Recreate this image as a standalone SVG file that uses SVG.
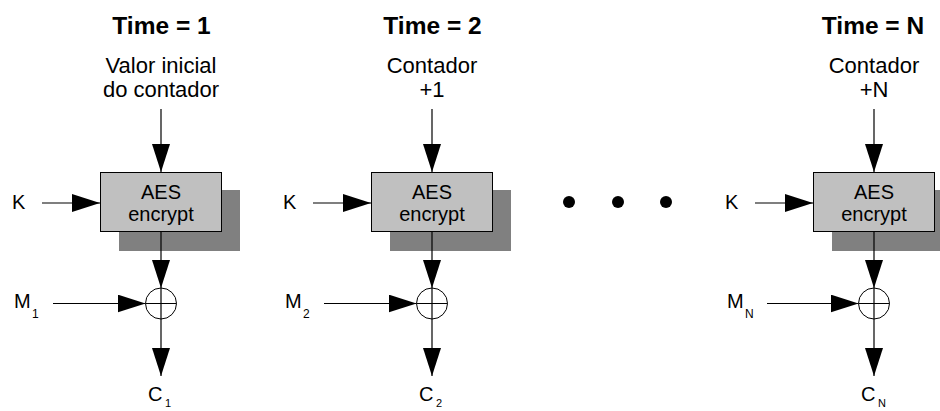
<svg xmlns="http://www.w3.org/2000/svg" width="940" height="411" viewBox="0 0 940 411">
<style>
text{font-family:"Liberation Sans",Arial,sans-serif;fill:#000}
.title{font-size:24.5px;font-weight:bold;text-anchor:middle}
.ctr{font-size:22px;text-anchor:middle}
.lbl{font-size:20px}
.box{font-size:20px;text-anchor:middle}
.sub{font-size:12px}
.csub{font-size:11px}
.shadow{fill:#808080}
.aes{fill:#c0c0c0;stroke:#000;stroke-width:1}
.ln{stroke:#000;stroke-width:1.2;fill:none}
.arr{stroke:#000;stroke-width:1.2;fill:none;marker-end:url(#ah)}
.xor{fill:#fff;stroke:#000;stroke-width:1}
</style>
<defs>
<marker id="ah" markerUnits="userSpaceOnUse" markerWidth="28" markerHeight="18" refX="28" refY="9" orient="auto">
<path d="M0,0 L28,9 L0,18 z" fill="#000"/>
</marker>
</defs>

<g id="block1">
<text class="title" x="161.5" y="34">Time = 1</text>
<text class="ctr" x="161" y="73">Valor inicial</text>
<text class="ctr" x="161" y="97">do contador</text>
<rect class="shadow" x="119" y="190" width="121" height="61"/>
<rect class="aes" x="100.5" y="172.5" width="121" height="59"/>
<text class="box" x="161" y="199">AES</text>
<text class="box" x="161" y="221">encrypt</text>
<text class="lbl" x="12" y="209">K</text>
<text class="lbl" x="14" y="308">M</text><text class="sub" x="32" y="318">1</text>
<text class="lbl" x="148" y="401">C</text><text class="csub" x="165" y="407">1</text>
</g>

<g id="block2">
<text class="title" x="432.5" y="34">Time = 2</text>
<text class="ctr" x="432" y="73">Contador</text>
<text class="ctr" x="432" y="97">+1</text>
<rect class="shadow" x="390" y="190" width="121" height="61"/>
<rect class="aes" x="371.5" y="172.5" width="121" height="59"/>
<text class="box" x="432" y="199">AES</text>
<text class="box" x="432" y="221">encrypt</text>
<text class="lbl" x="283" y="209">K</text>
<text class="lbl" x="285" y="308">M</text><text class="sub" x="303" y="318">2</text>
<text class="lbl" x="419" y="401">C</text><text class="csub" x="436" y="407">2</text>
</g>

<g id="dots">
<circle cx="569" cy="202" r="6" fill="#000"/>
<circle cx="618" cy="202" r="6" fill="#000"/>
<circle cx="666" cy="202" r="6" fill="#000"/>
</g>

<g id="blockN">
<text class="title" x="873" y="34">Time = N</text>
<text class="ctr" x="874" y="73">Contador</text>
<text class="ctr" x="874" y="97">+N</text>
<rect class="shadow" x="832" y="190" width="121" height="61"/>
<rect class="aes" x="813.5" y="172.5" width="121" height="59"/>
<text class="box" x="874" y="199">AES</text>
<text class="box" x="874" y="221">encrypt</text>
<text class="lbl" x="725" y="209">K</text>
<text class="lbl" x="727" y="308">M</text><text class="sub" x="745" y="318">N</text>
<text class="lbl" x="861" y="401">C</text><text class="csub" x="878" y="407">N</text>
</g>

<g id="connectors">
<g>
<path class="arr" d="M161,109 V172"/>
<path class="arr" d="M42,203 H100"/>
<path class="arr" d="M161,232 V288"/>
<path class="arr" d="M53,303.5 H145.5"/>
<circle class="xor" cx="161" cy="303.5" r="15.5"/>
<path class="ln" d="M145.5,303.5 H176.5 M161,288 V319"/>
<path class="arr" d="M161,319 V376"/>
</g>
<g>
<path class="arr" d="M432,109 V172"/>
<path class="arr" d="M313,203 H371"/>
<path class="arr" d="M432,232 V288"/>
<path class="arr" d="M324,303.5 H416.5"/>
<circle class="xor" cx="432" cy="303.5" r="15.5"/>
<path class="ln" d="M416.5,303.5 H447.5 M432,288 V319"/>
<path class="arr" d="M432,319 V376"/>
</g>
<g>
<path class="arr" d="M874,109 V172"/>
<path class="arr" d="M755,203 H813"/>
<path class="arr" d="M874,232 V288"/>
<path class="arr" d="M767,303.5 H858.5"/>
<circle class="xor" cx="874" cy="303.5" r="15.5"/>
<path class="ln" d="M858.5,303.5 H889.5 M874,288 V319"/>
<path class="arr" d="M874,319 V376"/>
</g>
</g>
</svg>
